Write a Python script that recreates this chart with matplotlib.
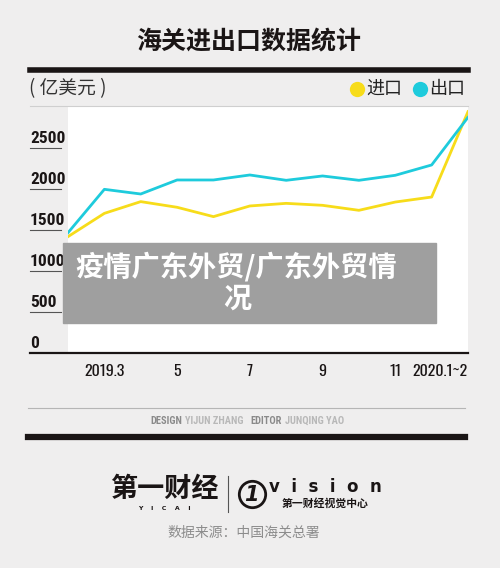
import matplotlib.pyplot as plt
from matplotlib.transforms import blended_transform_factory, offset_copy
from matplotlib.patches import Rectangle
from matplotlib.lines import Line2D

# ----------------------------
# Data
# ----------------------------
months = ["2019.1~2", "2019.3", "4", "5", "6", "7", "8", "9", "10", "11", "12", "2020.1~2"]
tick_pos = [1, 3, 5, 7, 9, 11]
tick_labels = ["2019.3", "5", "7", "9", "11", "2020.1~2"]
exports = [1467, 1996, 1939, 2110, 2110, 2171, 2106, 2159, 2106, 2167, 2293, 2874]
imports = [1419, 1703, 1846, 1777, 1663, 1793, 1825, 1801, 1740, 1841, 1902, 2943]
yticks = [0, 500, 1000, 1500, 2000, 2500]

# ----------------------------
# Styling
# ----------------------------
CJK = ["Noto Sans CJK SC", "DejaVu Sans"]
NUM = ["Roboto Condensed", "DejaVu Sans"]
XNUM = ["Oswald", "Roboto Condensed", "DejaVu Sans"]
BG = "#efeeee"
DARK = "#1a1515"
YELLOW = "#f7dc1a"
CYAN = "#1ecbdc"

W, H = 500, 568
fig = plt.figure(figsize=(W / 100, H / 100), dpi=100, facecolor=BG)


def fx(px):
    return px / W


def fy(py):
    return 1 - py / H


# title and header
fig.text(fx(249), fy(42), "海关进出口数据统计", family=CJK, fontsize=18,
         fontweight="bold", color=DARK, ha="center", va="center")
fig.add_artist(Line2D([fx(30), fx(468)], [fy(69.5), fy(69.5)], color=DARK, lw=4))
fig.text(fx(29), fy(89), "( 亿美元 )", family=CJK, fontsize=13.5, color="#333333",
         ha="left", va="center")
fig.add_artist(Line2D([fx(30), fx(468)], [fy(106), fy(106)], color="#cfcfcf", lw=0.8))

# legend
fig.add_artist(Line2D([fx(357)], [fy(89)], marker="o", ms=11, mew=0, color=YELLOW))
fig.text(fx(366), fy(89), "进口", family=CJK, fontsize=13, color="#222222", va="center")
fig.add_artist(Line2D([fx(420)], [fy(89)], marker="o", ms=11, mew=0, color=CYAN))
fig.text(fx(429), fy(89), "出口", family=CJK, fontsize=13, color="#222222", va="center")

# ----------------------------
# Chart
# ----------------------------
ax = fig.add_axes([fx(68), fy(353), fx(468) - fx(68), fy(107) - fy(353)])
ax.set_facecolor("white")
x = list(range(len(months)))
ax.plot(x, imports, color=YELLOW, lw=2.0, zorder=3)
ax.plot(x, exports, color=CYAN, lw=2.0, zorder=4)
ax.set_xlim(0, len(months) - 1)
ax.set_ylim(0, 3000)
ax.set_xticks([])
ax.set_yticks([])
for s in ax.spines.values():
    s.set_visible(False)

# y labels sitting on short underlines
tr = blended_transform_factory(fig.transFigure, ax.transData)
tr_lab = offset_copy(tr, fig=fig, y=5, units="dots")
for v in yticks:
    ax.text(fx(30), v, str(v), transform=tr_lab, family=NUM, fontsize=12.5,
            fontweight="bold", color=DARK, ha="left", va="baseline", clip_on=False)
    if v > 0:
        ax.add_line(Line2D([fx(30), fx(61)], [v, v], transform=tr, color="#555555",
                           lw=0.8, clip_on=False))
ax.add_line(Line2D([fx(30), fx(468)], [0, 0], transform=tr, color=DARK,
                   lw=1.6, clip_on=False))

# x labels
trx = blended_transform_factory(ax.transData, fig.transFigure)
for p, lab in zip(tick_pos, tick_labels):
    ha = "center" if p < 11 else "right"
    ax.text(p, fy(372), lab, transform=trx, family=XNUM, fontsize=11.5,
            fontweight="light", color=DARK, ha=ha, va="center", clip_on=False)

# ----------------------------
# Footer
# ----------------------------
fig.add_artist(Line2D([fx(28), fx(465)], [fy(408), fy(408)], color="#b5b5b5", lw=0.8))
fig.text(fx(182), fy(421), "DESIGN", family=NUM, fontsize=7.5, fontweight="bold",
         color="#8a8a8a", ha="right", va="center")
fig.text(fx(185), fy(421), "YIJUN ZHANG", family=NUM, fontsize=7.5, fontweight="bold",
         color="#b8b8b8", ha="left", va="center")
fig.text(fx(282), fy(421), "EDITOR", family=NUM, fontsize=7.5, fontweight="bold",
         color="#8a8a8a", ha="right", va="center")
fig.text(fx(285), fy(421), "JUNQING YAO", family=NUM, fontsize=7.5, fontweight="bold",
         color="#b8b8b8", ha="left", va="center")
fig.add_artist(Line2D([fx(28), fx(465)], [fy(437), fy(437)], color=DARK, lw=4.5))

# logos
fig.text(fx(164), fy(489), "第一财经", family=CJK, fontsize=19.5, fontweight="black",
         color=DARK, ha="center", va="center")
fig.text(fx(164), fy(509), "Y    I    C    A    I", family="DejaVu Sans", fontsize=4.5,
         fontweight="bold", color=DARK, ha="center", va="center")
fig.add_artist(Line2D([fx(228), fx(228)], [fy(476), fy(512)], color="#555555", lw=0.8))
fig.add_artist(Line2D([fx(252)], [fy(494)], marker="o", ms=19, mfc="none",
                      mec=DARK, mew=2))
fig.text(fx(251), fy(495), "1", family="DejaVu Sans", fontsize=15, fontweight="bold",
         style="italic", color=DARK, ha="center", va="center")
fig.text(fx(325), fy(487), "v  i  s  i  o  n", family="DejaVu Sans", fontsize=12,
         fontweight="bold", color=DARK, ha="center", va="center")
fig.text(fx(325), fy(503), "第一财经视觉中心", family=CJK, fontsize=7.8,
         fontweight="bold", color=DARK, ha="center", va="center")
fig.text(fx(244), fy(533), "数据来源：中国海关总署", family=CJK, fontsize=10,
         color="#8c8c8c", ha="center", va="center")

# overlay banner
fig.add_artist(Rectangle((fx(63), fy(323)), fx(436) - fx(63), fy(243) - fy(323),
                         transform=fig.transFigure, color="#9f9f9f", zorder=10))
fig.text(fx(75), fy(267), "疫情广东外贸/广东外贸情", family=CJK, fontsize=20.3,
         fontweight="bold", color="white", ha="left", va="center", zorder=11)
fig.text(fx(237), fy(299), "况", family=CJK, fontsize=20.3, fontweight="bold",
         color="white", ha="center", va="center", zorder=11)

fig.savefig("out.png", dpi=100, facecolor=BG)
